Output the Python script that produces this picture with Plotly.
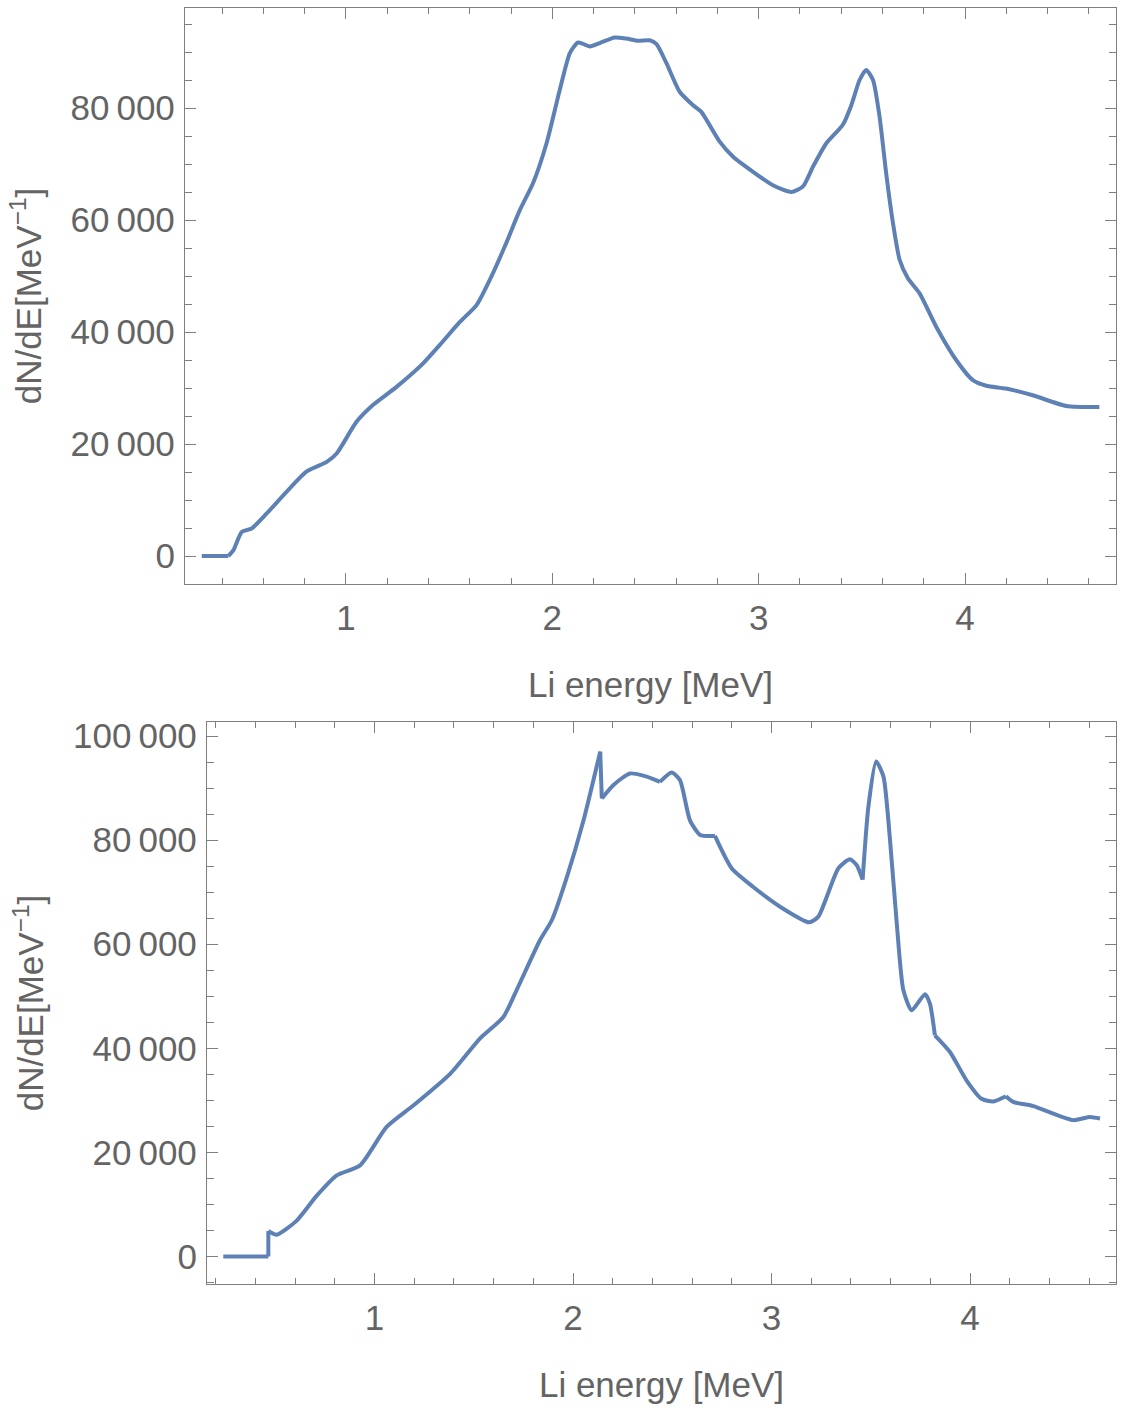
import plotly.graph_objects as go

# ---------------- data ----------------
top_E = [0.301, 0.430, 0.454, 0.495, 0.543, 0.616, 0.713, 0.810, 0.907, 0.955,
         1.052, 1.132, 1.245, 1.374, 1.455, 1.552, 1.633, 1.697, 1.770, 1.843,
         1.907, 1.972, 2.036, 2.085, 2.125, 2.182, 2.230, 2.303, 2.359, 2.416,
         2.472, 2.505, 2.553, 2.617, 2.682, 2.722, 2.811, 2.876, 2.973, 3.069,
         3.158, 3.215, 3.263, 3.328, 3.408, 3.449, 3.489, 3.521, 3.554, 3.586,
         3.618, 3.651, 3.683, 3.723, 3.780, 3.861, 3.957, 4.038, 4.103, 4.199,
         4.328, 4.490, 4.651]
top_N = [0, 0, 1000, 4300, 4900, 7600, 11500, 15100, 16800, 18300,
         24000, 27000, 30200, 34400, 37700, 41800, 44800, 49300, 55300, 61800,
         66600, 73700, 83200, 89800, 91700, 91000, 91600, 92600, 92400, 92000,
         92100, 91400, 88000, 82900, 80500, 79300, 74000, 71300, 68600, 66200,
         65000, 66000, 69500, 73700, 77000, 80500, 85000, 86800, 85000, 78400,
         68300, 59400, 52900, 49600, 46900, 40900, 35000, 31400, 30400, 29900,
         28700, 26800, 26600]

bot_E = [0.238, 0.465, 0.465, 0.507, 0.608, 0.709, 0.810, 0.927, 1.061, 1.195,
         1.381, 1.532, 1.649, 1.716, 1.834, 1.893, 1.969, 2.053, 2.137, 2.145,
         2.204, 2.287, 2.371, 2.438, 2.497, 2.539, 2.589, 2.640, 2.715, 2.799,
         2.908, 3.043, 3.190, 3.236, 3.337, 3.395, 3.429, 3.459, 3.488, 3.527,
         3.564, 3.597, 3.631, 3.664, 3.706, 3.773, 3.798, 3.823, 3.899, 3.983,
         4.058, 4.117, 4.181, 4.218, 4.319, 4.520, 4.604, 4.655]
bot_N = [0, 0, 4900, 4200, 6900, 11700, 15600, 17500, 24900, 29000,
         35100, 41900, 46000, 51200, 60800, 64600, 72900, 83800, 97000, 88000,
         90600, 92800, 92200, 91200, 93000, 91500, 83800, 81000, 80800, 74600,
         71000, 67200, 64200, 65300, 74600, 76300, 75200, 72400, 86400, 95100,
         92200, 80000, 64000, 51200, 47300, 50400, 48600, 42500, 39300, 33800,
         30300, 29800, 30800, 29700, 28900, 26200, 26800, 26500]

# indices of sharp corners / discontinuities in each curve
top_breaks = [1]
bot_breaks = [1, 2, 18, 19, 23, 28, 37, 47, 52]

x_tickvals = [1, 2, 3, 4]
x_ticktext = ["1", "2", "3", "4"]
top_y_tickvals = [0, 20000, 40000, 60000, 80000]
top_y_ticktext = ["0", "20\u2009000", "40\u2009000", "60\u2009000", "80\u2009000"]
bot_y_tickvals = [0, 20000, 40000, 60000, 80000, 100000]
bot_y_ticktext = ["0", "20\u2009000", "40\u2009000", "60\u2009000", "80\u2009000", "100\u2009000"]

x_title = "Li energy [MeV]"
y_title = "dN/dE[MeV<sup>\u22121</sup>]"

# ---------------- style ----------------
LINE = "#5e81b5"
FRAME = "#7f7f7f"
TXT = "#646464"
FONT = "Liberation Sans, Arial, sans-serif"
FS = 35

W, H = 1123, 1408

fig = go.Figure()


def add_curve(xs, ys, breaks, xa, ya):
    idx = [0] + breaks + [len(xs) - 1]
    for a, b in zip(idx[:-1], idx[1:]):
        if b <= a:
            continue
        fig.add_trace(go.Scatter(
            x=xs[a:b + 1], y=ys[a:b + 1], mode="lines",
            line=dict(color=LINE, width=4, shape="spline", smoothing=0.6),
            xaxis=xa, yaxis=ya, showlegend=False, hoverinfo="x+y"))


add_curve(top_E, top_N, top_breaks, "x", "y")
add_curve(bot_E, bot_N, bot_breaks, "x2", "y2")


def xax(domain, rng, anchor):
    return dict(domain=domain, range=rng, anchor=anchor, automargin=False,
                tickvals=x_tickvals, ticktext=x_ticktext,
                ticks="inside", ticklen=11, tickwidth=1.3, tickcolor=FRAME,
                minor=dict(dtick=0.2, tick0=0, ticks="inside", ticklen=6,
                           tickwidth=1.1, tickcolor=FRAME, showgrid=False),
                showline=True, linecolor=FRAME, linewidth=1.3, mirror="allticks",
                showgrid=False, zeroline=False,
                tickfont=dict(family=FONT, size=FS, color=TXT),
                ticklabelstandoff=3,
                title=dict(text=x_title, font=dict(family=FONT, size=FS, color=TXT),
                           standoff=36))


def yax(domain, rng, anchor, tv, tt):
    return dict(domain=domain, range=rng, anchor=anchor, automargin=False,
                tickvals=tv, ticktext=tt,
                ticks="inside", ticklen=11, tickwidth=1.3, tickcolor=FRAME,
                minor=dict(dtick=5000, tick0=0, ticks="inside", ticklen=7,
                           tickwidth=1.1, tickcolor=FRAME, showgrid=False),
                showline=True, linecolor=FRAME, linewidth=1.3, mirror="allticks",
                showgrid=False, zeroline=False,
                tickfont=dict(family=FONT, size=FS, color=TXT),
                ticklabelstandoff=2,
                title=dict(text=y_title, font=dict(family=FONT, size=FS, color=TXT),
                           standoff=18))


fig.update_layout(
    width=W, height=H,
    margin=dict(l=0, r=0, t=0, b=0, autoexpand=False),
    paper_bgcolor="white", plot_bgcolor="white",
    xaxis=xax([185 / W, 1116 / W], [0.22, 4.7316], "y"),
    yaxis=yax([(H - 584) / H, (H - 8) / H], [-5000, 97857], "x",
              top_y_tickvals, top_y_ticktext),
    xaxis2=xax([207 / W, 1116 / W], [0.156, 4.7355], "y2"),
    yaxis2=yax([(H - 1284) / H, (H - 722) / H], [-5283, 102690], "x2",
               bot_y_tickvals, bot_y_ticktext),
)

fig.write_html("out.html")
